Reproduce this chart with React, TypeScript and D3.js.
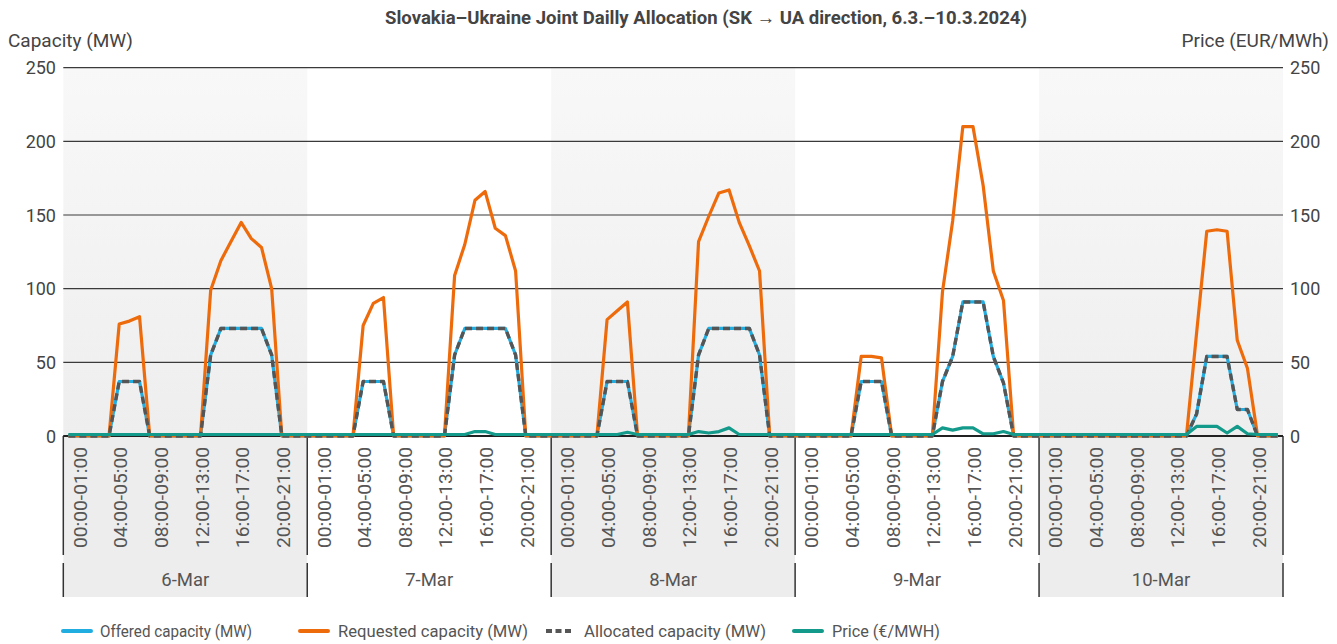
import React from 'react';
import * as d3 from 'd3';

const days = ['6-Mar', '7-Mar', '8-Mar', '9-Mar', '10-Mar'];
const hourLabelHours = [0, 4, 8, 12, 16, 20];
const yTicks = [0, 50, 100, 150, 200, 250];

// 24 hourly values per day, 6.3. - 10.3.2024
const offered = [
  0,0,0,0,0,37,37,37,0,0,0,0,0,0,55,73,73,73,73,73,55,0,0,0,
  0,0,0,0,0,37,37,37,0,0,0,0,0,0,55,73,73,73,73,73,55,0,0,0,
  0,0,0,0,0,37,37,37,0,0,0,0,0,0,55,73,73,73,73,73,55,0,0,0,
  0,0,0,0,0,0,37,37,37,0,0,0,0,0,37,54,91,91,91,54,36,0,0,0,
  0,0,0,0,0,0,0,0,0,0,0,0,0,0,0,15,54,54,54,18,18,0,0,0,
];
const requested = [
  0,0,0,0,0,76,78,81,0,0,0,0,0,0,99,119,132,145,134,128,100,0,0,0,
  0,0,0,0,0,75,90,94,0,0,0,0,0,0,109,130,160,166,141,136,112,0,0,0,
  0,0,0,0,0,79,85,91,0,0,0,0,0,0,132,149,165,167,145,129,112,0,0,0,
  0,0,0,0,0,0,54,54,53,0,0,0,0,0,98,146,210,210,170,112,92,0,0,0,
  0,0,0,0,0,0,0,0,0,0,0,0,0,0,0,70,139,140,139,65,46,0,0,0,
];
const allocated = [
  0,0,0,0,0,37,37,37,0,0,0,0,0,0,55,73,73,73,73,73,55,0,0,0,
  0,0,0,0,0,37,37,37,0,0,0,0,0,0,55,73,73,73,73,73,55,0,0,0,
  0,0,0,0,0,37,37,37,0,0,0,0,0,0,55,73,73,73,73,73,55,0,0,0,
  0,0,0,0,0,0,37,37,37,0,0,0,0,0,37,54,91,91,91,54,36,0,0,0,
  0,0,0,0,0,0,0,0,0,0,0,0,0,0,0,15,54,54,54,18,18,0,0,0,
];
const price = [
  0,0,0,0,0,0,0,0,0,0,0,0,0,0,0,0,0,0,0,0,0,0,0,0,
  0,0,0,0,0,0,0,0,0,0,0,0,0,0,0,0,2,2,0,0,0,0,0,0,
  0,0,0,0,0,0,0,1.5,0,0,0,0,0,0,2,1,2,4.5,0,0,0,0,0,0,
  0,0,0,0,0,0,0,0,0,0,0,0,0,0,4.5,3,4.5,4.5,0.5,0.5,2,0,0,0,
  0,0,0,0,0,0,0,0,0,0,0,0,0,0,0,5.5,5.5,5.5,1,5.5,0.5,0,0,0,
];

const W = 1337;
const H = 644;
const left = 63.3;
const right = 1283;
const yTop = 67.7;
const yBottom = 436;
const axisBottom = 597;
const FONT = 'Roboto, "Noto Sans", sans-serif';

const pad = (n: number) => (n < 10 ? '0' + n : '' + n);

export default function App() {
  const n = days.length * 24;
  const x = d3.scaleBand<number>().domain(d3.range(n)).range([left, right]).padding(0);
  const bw = x.bandwidth();
  const cx = (i: number) => (x(i) as number) + bw / 2;
  const dayX = d3.scaleBand<string>().domain(days).range([left, right]).padding(0);
  const dw = dayX.bandwidth();
  const y = d3.scaleLinear().domain([0, 250]).range([yBottom, yTop]);
  const yPrice = d3.scaleLinear().domain([0, 250]).range([yBottom, yTop]);

  const line = d3.line<number>().x((_, i) => cx(i)).y((v) => y(v)).curve(d3.curveLinear);
  const priceLine = d3.line<number>().x((_, i) => cx(i)).y((v) => yPrice(v) - 1.5).curve(d3.curveLinear);

  const legend = [
    { label: 'Offered capacity (MW)', color: '#22ade0', dash: null, ix: 63, tx: 100, tl: 152 },
    { label: 'Requested capacity (MW)', color: '#ee6b0c', dash: null, ix: 300, tx: 338, tl: 190 },
    { label: 'Allocated capacity (MW)', color: '#555555', dash: '6,3.5', ix: 546, tx: 584, tl: 182 },
    { label: 'Price (€/MWH)', color: '#149a8a', dash: null, ix: 794, tx: 832, tl: 108 },
  ];

  return (
    <svg width={W} height={H} style={{ position: 'absolute', left: 0, top: 0, display: 'block', background: '#fff' }} fontFamily={FONT}>
      <defs>
        <linearGradient id="bandGrad" x1="0" y1="0" x2="0" y2="1">
          <stop offset="0" stopColor="#f8f8f8" />
          <stop offset="1" stopColor="#eeeeee" />
        </linearGradient>
      </defs>

      {/* day bands */}
      {days.map((d, k) =>
        k % 2 === 0 ? (
          <g key={'band' + d}>
            <rect x={dayX(d)} y={yTop} width={dw} height={yBottom - yTop} fill="url(#bandGrad)" />
            <rect x={dayX(d)} y={yBottom} width={dw} height={axisBottom - yBottom} fill="#ededed" />
          </g>
        ) : null
      )}

      {/* gridlines */}
      {yTicks.map((t) => (
        <line key={'g' + t} x1={left} x2={right} y1={y(t)} y2={y(t)} stroke="#3a3a3a" strokeWidth={1.2} />
      ))}

      {/* left ticks */}
      {yTicks.map((t) => (
        <text key={'l' + t} x={56} y={y(t)} textAnchor="end" dominantBaseline="central" fontSize={18} fill="#444">
          {t}
        </text>
      ))}
      {/* right ticks */}
      {yTicks.map((t) => (
        <text key={'r' + t} x={1290} y={yPrice(t)} textAnchor="start" dominantBaseline="central" fontSize={18} fill="#444">
          {t}
        </text>
      ))}

      {/* axis titles */}
      <text x={8} y={47} fontSize={19} fill="#444">Capacity (MW)</text>
      <text x={1329} y={47} fontSize={19} fill="#444" textAnchor="end">Price (EUR/MWh)</text>

      {/* title */}
      <text x={706} y={24} textAnchor="middle" fontSize={18.5} fontWeight="bold" fill="#444" textLength={642} lengthAdjust="spacingAndGlyphs">
        Slovakia–Ukraine Joint Dailly Allocation (SK → UA direction, 6.3.–10.3.2024)
      </text>

      {/* x axis separators */}
      {d3.range(days.length + 1).map((k) => {
        const xx = k < days.length ? (dayX(days[k]) as number) : right;
        return (
          <g key={'sep' + k}>
            <line x1={xx} x2={xx} y1={yBottom} y2={555} stroke="#333" strokeWidth={1.5} />
            <line x1={xx} x2={xx} y1={563} y2={axisBottom} stroke="#333" strokeWidth={1.5} />
          </g>
        );
      })}

      {/* hour labels */}
      {days.map((d, k) =>
        hourLabelHours.map((h) => {
          const i = k * 24 + h;
          const lx = cx(i) + bw * 1.15;
          return (
            <text
              key={'h' + i}
              transform={`translate(${lx},447) rotate(-90)`}
              textAnchor="end"
              dominantBaseline="central"
              fontSize={19}
              fill="#555"
              textLength={101}
              lengthAdjust="spacingAndGlyphs"
            >
              {`${pad(h)}:00-${pad(h + 1)}:00`}
            </text>
          );
        })
      )}

      {/* day labels */}
      {days.map((d) => (
        <text key={'d' + d} x={(dayX(d) as number) + dw / 2} y={580} textAnchor="middle" dominantBaseline="central" fontSize={18.5} fill="#555">
          {d}
        </text>
      ))}

      {/* x axis baseline */}
      <line x1={left} x2={right} y1={yBottom} y2={yBottom} stroke="#222" strokeWidth={2} />

      {/* series */}
      <path d={line(offered) || ''} fill="none" stroke="#22ade0" strokeWidth={3.2} strokeLinejoin="round" />
      <path d={line(requested) || ''} fill="none" stroke="#ee6b0c" strokeWidth={3.2} strokeLinejoin="round" />
      <path d={line(allocated) || ''} fill="none" stroke="#555555" strokeWidth={3.4} strokeDasharray="7,4" strokeLinejoin="round" />
      <path d={priceLine(price) || ''} fill="none" stroke="#149a8a" strokeWidth={3.2} strokeLinejoin="round" />

      {/* legend */}
      {legend.map((l) => (
        <g key={l.label}>
          <line x1={l.ix} x2={l.ix + 28} y1={631} y2={631} stroke={l.color} strokeWidth={4} strokeLinecap={l.dash ? 'butt' : 'round'} strokeDasharray={l.dash || undefined} />
          <text x={l.tx} y={631} dominantBaseline="central" fontSize={17} fill="#555" textLength={l.tl} lengthAdjust="spacingAndGlyphs">
            {l.label}
          </text>
        </g>
      ))}
    </svg>
  );
}
